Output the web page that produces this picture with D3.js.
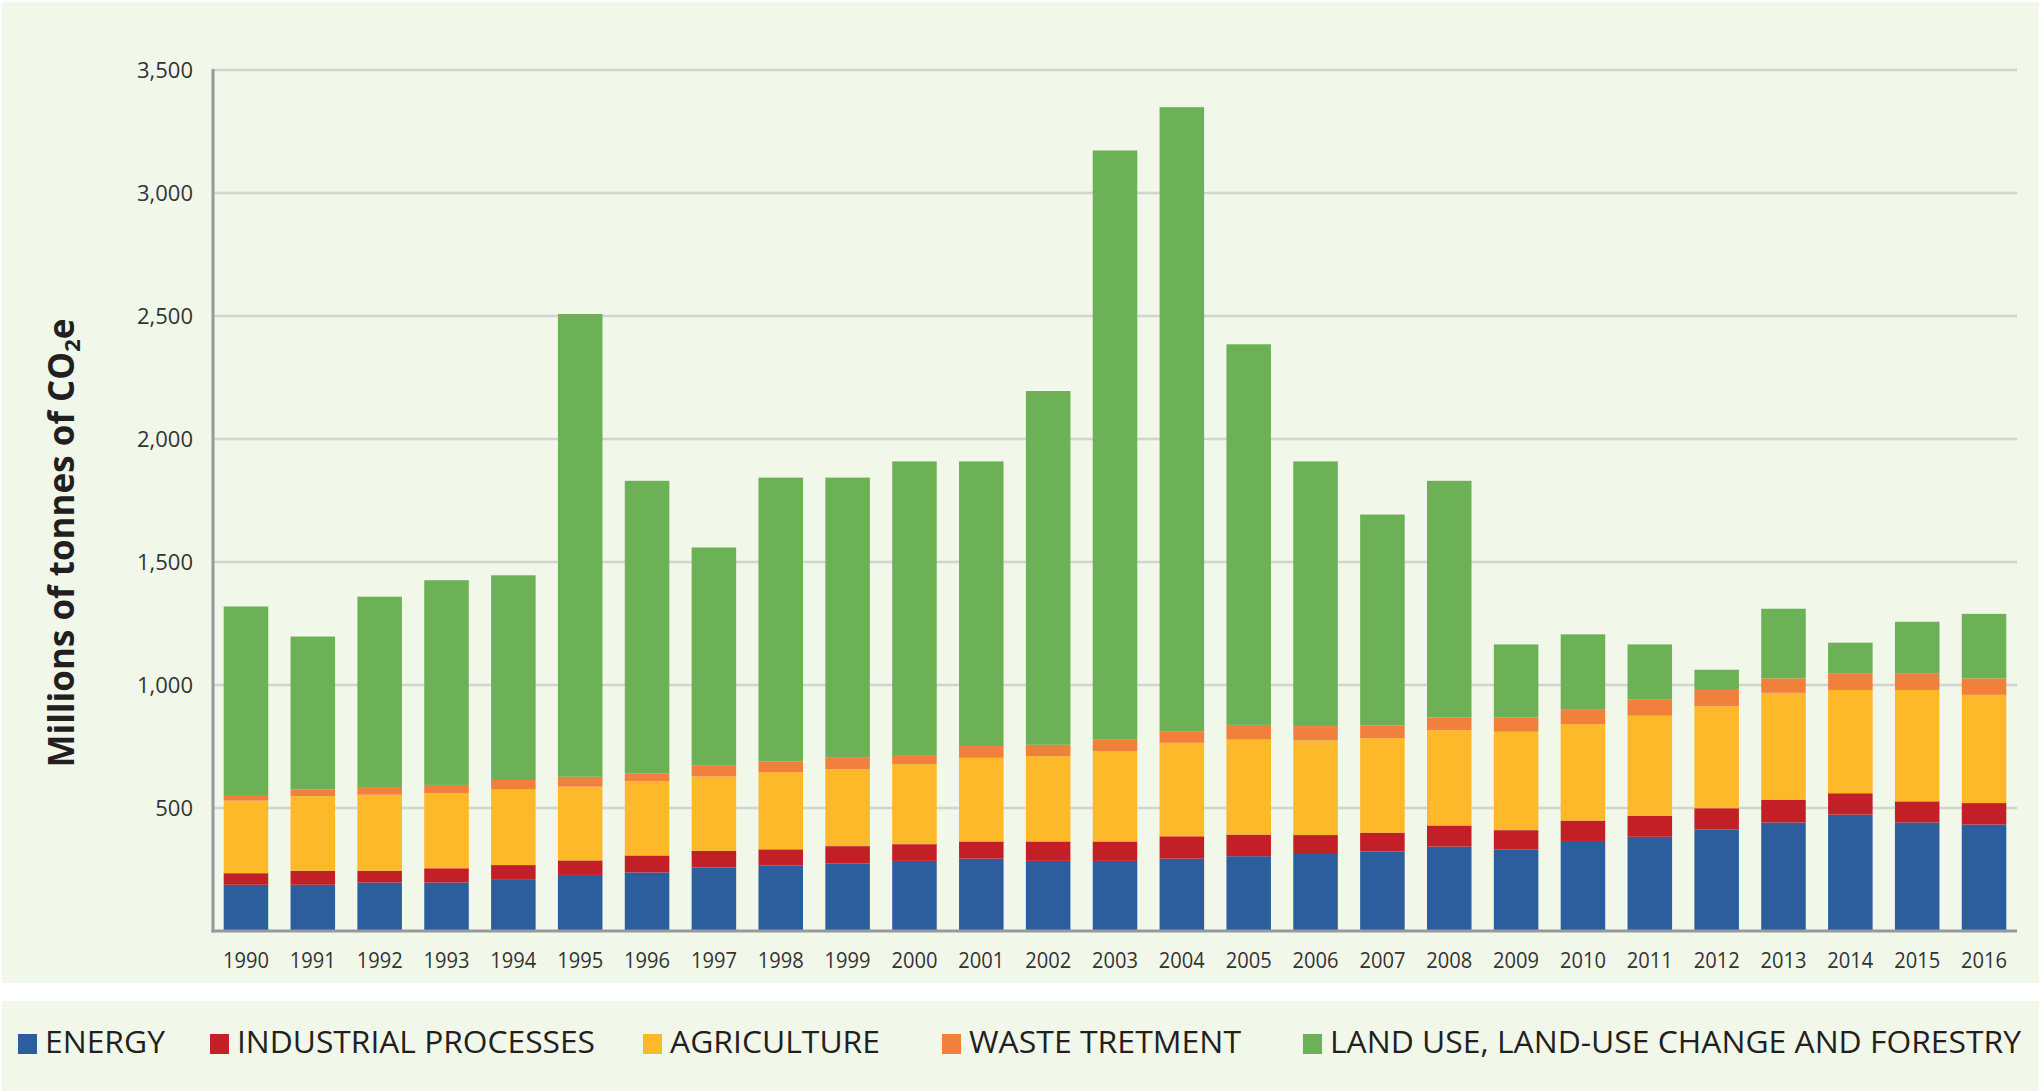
<!DOCTYPE html>
<html>
<head>
<meta charset="utf-8">
<script src="https://cdn.jsdelivr.net/npm/d3@7"></script>
<style>
  html, body { margin: 0; padding: 0; background: #ffffff; }
  svg { display: block; }
</style>
</head>
<body>
<svg id="chart" width="2039" height="1091"></svg>
<script>
// ---- data ----
const years = ["1990","1991","1992","1993","1994","1995","1996","1997","1998","1999","2000","2001","2002","2003","2004","2005","2006","2007","2008","2009","2010","2011","2012","2013","2014","2015","2016"];
const energy      = [188,188,197,197,208,228,238,258,266,275,285,294,285,285,294,304,313,323,343,332,362,383,413,441,473,441,433];
const industrial  = [47,57,48,58,60,59,69,68,66,70,68,70,79,79,91,88,77,77,86,78,87,85,86,93,87,86,87];
const agriculture = [295,303,309,306,307,300,302,302,314,313,325,340,347,367,380,386,385,384,387,400,392,407,415,434,420,453,440];
const waste       = [23,27,28,33,39,40,32,46,44,46,34,48,46,47,45,60,58,51,52,58,61,66,66,59,66,66,67];
const lulucf      = [766,622,777,832,832,1881,1189,885,1153,1139,1197,1157,1438,2395,2539,1547,1076,858,962,297,304,224,82,283,126,211,262];
const seriesNames = ["ENERGY","INDUSTRIAL PROCESSES","AGRICULTURE","WASTE TRETMENT","LAND USE, LAND-USE CHANGE AND FORESTRY"];
const seriesKeys  = ["energy","industrial","agriculture","waste","lulucf"];
const yTicks = [500,1000,1500,2000,2500,3000,3500];
const yTitle = "Millions of tonnes of CO";

// ---- styles ----
const colors = ["#2c5e9e","#c21f27","#fdb92a","#f0803b","#6cb155"];
const panelFill = "#f1f7e9";
const fontFamily = "'Open Sans', 'DejaVu Sans', sans-serif";

const svg = d3.select("#chart");

// panels
svg.append("rect").attr("x",2).attr("y",2).attr("width",2037).attr("height",981).attr("fill",panelFill);
svg.append("rect").attr("x",2).attr("y",1001).attr("width",2037).attr("height",90).attr("fill",panelFill);

const plot = {left:213, right:2017, top:70, bottom:931};

const table = years.map((yr,i)=>({year:yr, energy:energy[i], industrial:industrial[i], agriculture:agriculture[i], waste:waste[i], lulucf:lulucf[i]}));
const stacked = d3.stack().keys(seriesKeys)(table);

const x = d3.scaleBand().domain(years).range([plot.left, plot.right]).paddingInner(0.334).paddingOuter(0.16);
const y = d3.scaleLinear().domain([0,3500]).range([plot.bottom, plot.top]);

// gridlines
svg.append("g").selectAll("line").data(yTicks).join("line")
  .attr("x1", plot.left).attr("x2", plot.right)
  .attr("y1", d=>y(d)).attr("y2", d=>y(d))
  .attr("stroke","#d2d4d0").attr("stroke-width",2.5);

// bars
const gBars = svg.append("g");
stacked.forEach((s,si)=>{
  gBars.append("g").attr("fill",colors[si])
    .selectAll("rect").data(s).join("rect")
    .attr("x", d=>x(d.data.year))
    .attr("width", x.bandwidth())
    .attr("y", d=>y(d[1]))
    .attr("height", d=>y(d[0])-y(d[1]));
});

// y axis line
svg.append("line").attr("x1",plot.left).attr("x2",plot.left).attr("y1",plot.top-1).attr("y2",plot.bottom+1.5)
  .attr("stroke","#98999b").attr("stroke-width",3);
// baseline
svg.append("line").attr("x1",plot.left-1.5).attr("x2",plot.right).attr("y1",plot.bottom).attr("y2",plot.bottom)
  .attr("stroke","#98999b").attr("stroke-width",3);

// y axis labels
const yAxis = d3.axisLeft(y).tickValues(yTicks).tickSize(0).tickPadding(20).tickFormat(d3.format(","));
const gy = svg.append("g").attr("transform",`translate(${plot.left},0)`).call(yAxis);
gy.select(".domain").remove();
gy.selectAll("text").attr("font-family",fontFamily).attr("font-size",22).attr("fill","#333333").attr("dy","0.36em");

// x axis labels
const xAxis = d3.axisBottom(x).tickSize(0).tickPadding(21);
const gx = svg.append("g").attr("transform",`translate(0,${plot.bottom})`).call(xAxis);
gx.select(".domain").remove();
gx.selectAll("text").attr("font-family",fontFamily).attr("font-size",22).attr("fill","#333333")
  .attr("textLength",46).attr("lengthAdjust","spacingAndGlyphs");

// y title
const t = svg.append("text")
  .attr("transform","translate(74,543) rotate(-90)")
  .attr("text-anchor","middle")
  .attr("font-family",fontFamily).attr("font-weight","bold").attr("font-size",35).attr("fill","#231f20");
t.append("tspan").text(yTitle);
t.append("tspan").text("2").attr("font-size",22).attr("baseline-shift","-25%");
t.append("tspan").text("e");

// legend
const legendX = [18, 210, 643, 942, 1303];
const legendTextW = [120, 358, 210, 272, 691];
const lg = svg.append("g");
seriesNames.forEach((name,i)=>{
  lg.append("rect").attr("x",legendX[i]).attr("y",1034).attr("width",19).attr("height",20).attr("fill",colors[i]);
  lg.append("text").attr("x",legendX[i]+27).attr("y",1053)
    .attr("font-family",fontFamily).attr("font-size",30.5).attr("fill","#231f20")
    .attr("textLength",legendTextW[i]).attr("lengthAdjust","spacingAndGlyphs")
    .text(name);
});
</script>
</body>
</html>
